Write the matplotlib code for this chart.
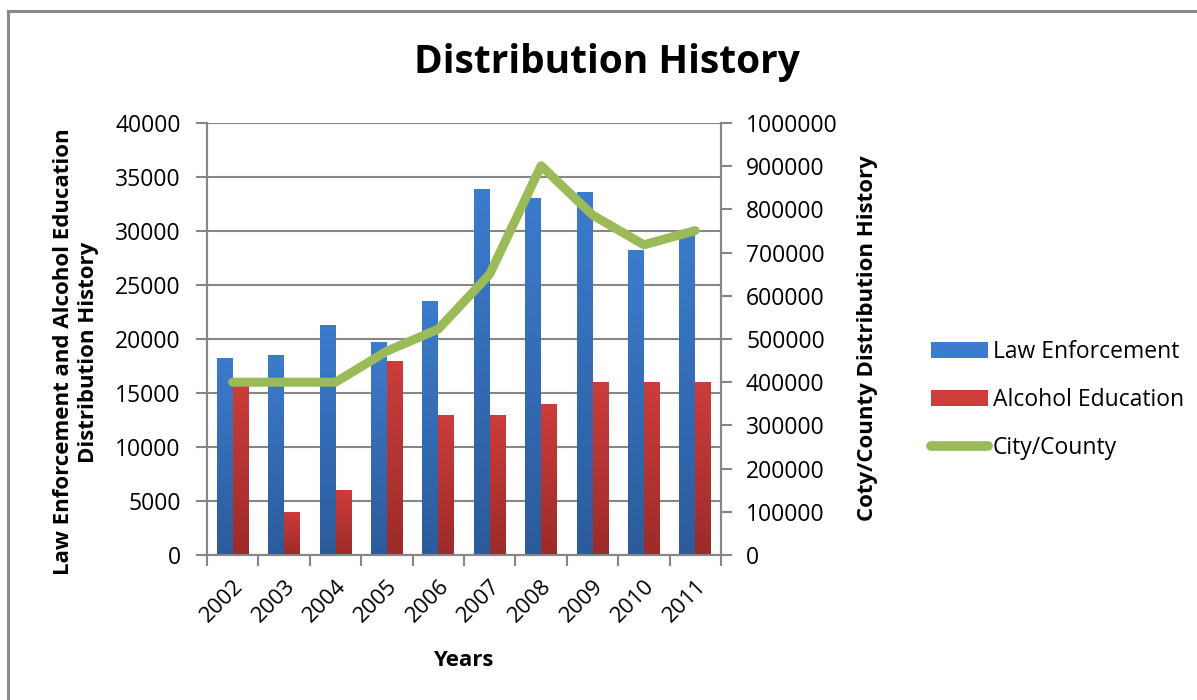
import matplotlib
matplotlib.use("Agg")
from matplotlib import pyplot as plt
from matplotlib.colors import LinearSegmentedColormap
from matplotlib.lines import Line2D
from matplotlib.patches import Patch
from matplotlib.ticker import FuncFormatter
import numpy as np

years = ['2002', '2003', '2004', '2005', '2006', '2007', '2008', '2009', '2010', '2011']
law_enforcement = [18200, 18500, 21300, 19700, 23500, 33900, 33100, 33600, 28200, 30100]
alcohol_education = [16000, 4000, 6000, 18000, 13000, 13000, 14000, 16000, 16000, 16000]
city_county = [400000, 400000, 400000, 472000, 523000, 650000, 901000, 787000, 718000, 751000]

plt.rcParams['font.family'] = ['Open Sans', 'DejaVu Sans']

blue_top, blue_bot = '#3c7ccd', '#2c5b9a'
red_top, red_bot = '#cc3d3b', '#9c2b29'
green = '#9bbb59'
grid_grey = '#868686'

fig = plt.figure(figsize=(11.97, 7), dpi=100)
ax = fig.add_axes([207/1197, 1-555/700, (721-207)/1197, (555-123)/700])
ax2 = ax.twinx()

x = np.arange(len(years))
w = 0.31


def gradient_bars(axis, xs, heights, c_top, c_bot):
    cmap = LinearSegmentedColormap.from_list('g', [c_bot, c_top])
    bars = axis.bar(xs, heights, width=w, color='none', edgecolor='none', zorder=3)
    grad = np.linspace(0, 1, 256).reshape(-1, 1)
    for b in bars:
        x0, y0 = b.get_x(), b.get_y()
        im = axis.imshow(grad, cmap=cmap, aspect='auto', origin='lower',
                         extent=[x0, x0 + b.get_width(), y0, y0 + b.get_height()],
                         zorder=3, interpolation='bilinear')
        im.set_clip_path(b)
    return bars


gradient_bars(ax, x - w/2, law_enforcement, blue_top, blue_bot)
gradient_bars(ax, x + w/2, alcohol_education, red_top, red_bot)

ax.set_xlim(-0.5, 9.5)
ax.set_ylim(0, 40000)
ax.set_yticks(np.arange(0, 40001, 5000))
ax.grid(axis='y', color=grid_grey, linewidth=1.5, zorder=0)
ax.set_axisbelow(True)

# category ticks sit on the boundaries, labels at the centres
ax.set_xticks(np.arange(-0.5, 10, 1))
ax.set_xticklabels([])
ax.set_xticks(x, minor=True)
ax.set_xticklabels(years, minor=True, rotation=45, ha='right', va='top',
                   rotation_mode='anchor', fontsize=16)
ax.tick_params(axis='x', which='minor', length=0, pad=15)
ax.tick_params(axis='x', which='major', length=8, color=grid_grey, width=1.5)
ax.tick_params(axis='y', length=8, color=grid_grey, width=1.5, labelsize=16.5, pad=11)

ax2.plot(x, city_county, color=green, linewidth=6.5, solid_capstyle='round',
         solid_joinstyle='round', zorder=5)
ax2.set_ylim(0, 1000000)
ax2.set_yticks(np.arange(0, 1000001, 100000))
ax2.yaxis.set_major_formatter(FuncFormatter(lambda v, p: '%d' % v))
ax2.tick_params(axis='y', length=8, color=grid_grey, width=1.5, labelsize=16.5, pad=10)

for a in (ax, ax2):
    a.spines['top'].set_visible(False)
    for s in ('left', 'right', 'bottom'):
        a.spines[s].set_color(grid_grey)
        a.spines[s].set_linewidth(1.5)

fig.text(607/1197, 1-63/700, 'Distribution History', fontsize=28, fontweight='bold',
         ha='center', va='center')
fig.text(76/1197, 1-352/700, 'Law Enforcement and Alcohol Education\nDistribution History',
         fontsize=16, fontweight='bold', rotation=90, ha='center', va='center',
         multialignment='center', linespacing=1.2)
fig.text(868/1197, 1-338/700, 'Coty/County Distribution History', fontsize=16,
         fontweight='bold', rotation=90, ha='center', va='center')
fig.text(463/1197, 1-660/700, 'Years', fontsize=16, fontweight='bold',
         ha='center', va='center')

handles = [Patch(facecolor=blue_top, edgecolor='none'),
           Patch(facecolor=red_top, edgecolor='none'),
           Line2D([0], [0], color=green, linewidth=7, solid_capstyle='round')]
labels = ['Law Enforcement', 'Alcohol Education', 'City/County']
fig.legend(handles, labels, loc='center left', bbox_to_anchor=(922/1197, 1-400/700),
           frameon=False, fontsize=16.5, handlelength=2.5, handleheight=0.65,
           labelspacing=1.05, handletextpad=0.2, borderaxespad=0)

# chart area border (left and top edges visible)
fig.add_artist(Line2D([8/1197, 8/1197], [0, 1-11/700], color='#8a8a8a', linewidth=2.2))
fig.add_artist(Line2D([8/1197, 1], [1-11/700, 1-11/700], color='#8a8a8a', linewidth=2.2))

fig.savefig('out.png', dpi=100)
